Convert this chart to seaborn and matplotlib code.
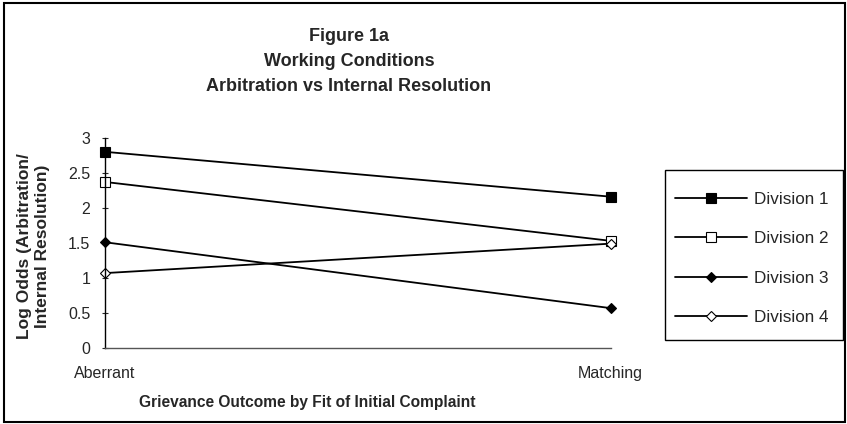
import matplotlib
matplotlib.use("Agg")
import matplotlib.pyplot as plt
import pandas as pd
import seaborn as sns

# values
outcome = ["Aberrant", "Matching"]
division_1 = [2.80, 2.16]
division_2 = [2.37, 1.53]
division_3 = [1.51, 0.57]
division_4 = [1.07, 1.49]
divisions = ["Division 1", "Division 2", "Division 3", "Division 4"]

df = pd.DataFrame({
    "Outcome": outcome * 4,
    "LogOdds": division_1 + division_2 + division_3 + division_4,
    "Division": [d for d in divisions for _ in outcome],
})

sns.set_style("white")
plt.rcParams["font.family"] = ["Liberation Sans", "DejaVu Sans"]

fig = plt.figure(figsize=(8.47, 4.24), dpi=100)
ax = fig.add_axes([0.124, 0.179, 0.597, 0.496])

markers = {"Division 1": "s", "Division 2": "s", "Division 3": "D", "Division 4": "D"}
sizes_ = {"Division 1": 6.5, "Division 2": 6.5, "Division 3": 4.8, "Division 4": 5.5}
faces = {"Division 1": "black", "Division 2": "white", "Division 3": "black", "Division 4": "white"}

sns.lineplot(data=df, x="Outcome", y="LogOdds", hue="Division", style="Division",
             markers=markers, dashes=False, palette=["black"] * 4, sort=False,
             linewidth=1.3, ax=ax, legend=False)

handles = []
for line, d in zip(ax.lines, divisions):
    line.set_markerfacecolor(faces[d])
    line.set_markeredgecolor("black")
    line.set_markersize(sizes_[d])
    line.set_markeredgewidth(0.8)
    line.set_clip_on(False)
    line.set_label(d)
    handles.append(line)

ax.set_xlim(0, 1)
ax.set_ylim(0, 3)
ax.set_yticks([0, 0.5, 1, 1.5, 2, 2.5, 3])
ax.set_yticklabels(["0", "0.5", "1", "1.5", "2", "2.5", "3"])
ax.set_xticks([0, 1])
ax.set_xticklabels(outcome)
ax.tick_params(axis="y", direction="inout", length=5, width=0.8, labelsize=11.5, pad=8, left=True)
ax.tick_params(axis="x", direction="out", length=0, labelsize=11.5, pad=13)

for s in ["top", "right"]:
    ax.spines[s].set_visible(False)
ax.spines["left"].set_color("black")
ax.spines["left"].set_linewidth(1.0)
ax.spines["bottom"].set_color("#555555")
ax.spines["bottom"].set_linewidth(1.0)

ax.set_xlabel("Grievance Outcome by Fit of Initial Complaint", fontsize=11.2,
              fontweight="bold")
ax.set_ylabel("Log Odds (Arbitration/\nInternal Resolution)", fontsize=12.5,
              fontweight="bold", linespacing=1.25)
ax.xaxis.set_label_coords(0.40, -0.225)
ax.yaxis.set_label_coords(-0.109, 0.486)

fig.text(0.412, 0.935, "Figure 1a\nWorking Conditions\nArbitration vs Internal Resolution",
         ha="center", va="top", fontsize=13, fontweight="bold", linespacing=1.62)

# legend box drawn separately so the padding matches
fig.add_artist(plt.Rectangle((0.785, 0.198), 0.210, 0.401, transform=fig.transFigure,
                             fill=False, lw=1.0, edgecolor="black"))
leg = fig.legend(handles=handles, labels=divisions, loc="upper left",
                 bbox_to_anchor=(0.797, 0.548), fontsize=12.3, handlelength=4.2,
                 labelspacing=1.43, frameon=False, borderpad=0,
                 handletextpad=0.45, borderaxespad=0)

fig.add_artist(plt.Rectangle((0.005, 0.005), 0.993, 0.988, transform=fig.transFigure,
                             fill=False, lw=1.5, edgecolor="black"))

fig.savefig("out.png", dpi=100)
